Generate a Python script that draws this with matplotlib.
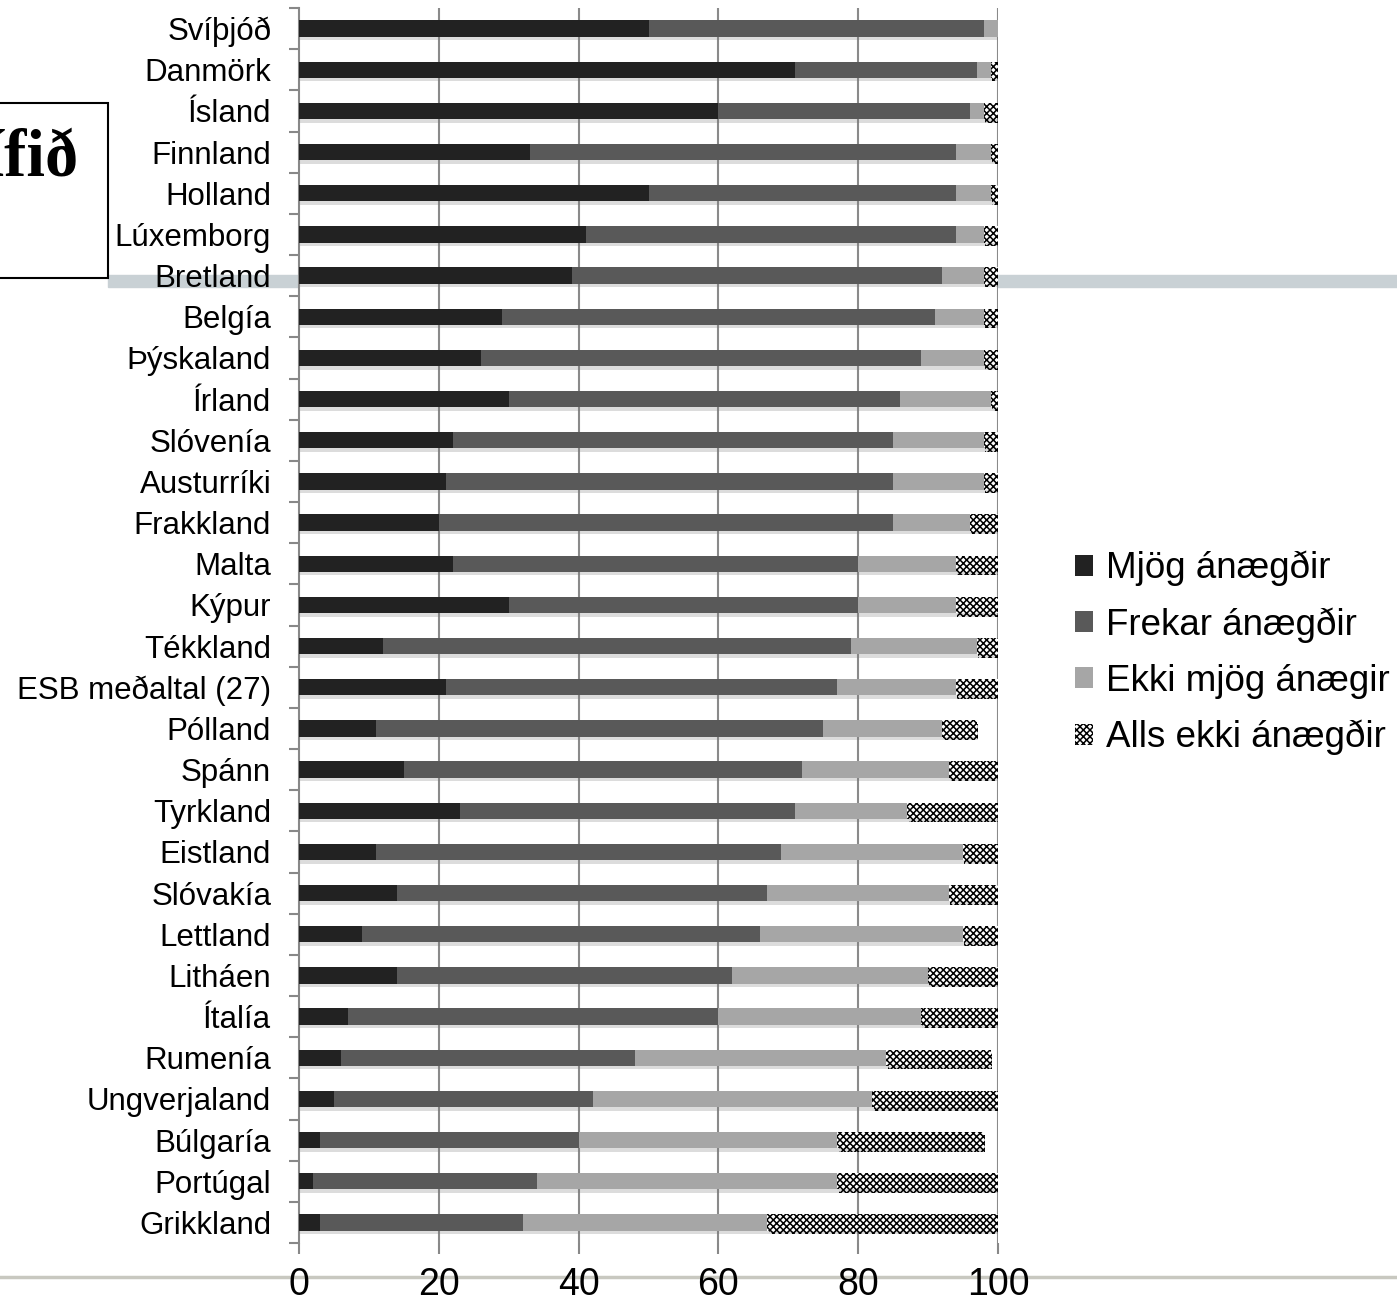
import matplotlib
matplotlib.use("Agg")
import matplotlib.pyplot as plt
import matplotlib.patheffects as pe
from matplotlib.patches import Rectangle, Patch
from matplotlib.lines import Line2D

plt.rcParams['font.family'] = ['Liberation Sans', 'DejaVu Sans']
plt.rcParams['hatch.linewidth'] = 1.1

countries = ["Svíþjóð", "Danmörk", "Ísland", "Finnland", "Holland", "Lúxemborg",
             "Bretland", "Belgía", "Þýskaland", "Írland", "Slóvenía", "Austurríki",
             "Frakkland", "Malta", "Kýpur", "Tékkland", "ESB meðaltal (27)", "Pólland",
             "Spánn", "Tyrkland", "Eistland", "Slóvakía", "Lettland", "Litháen",
             "Ítalía", "Rumenía", "Ungverjaland", "Búlgaría", "Portúgal", "Grikkland"]
mjog = [50, 71, 60, 33, 50, 41, 39, 29, 26, 30, 22, 21, 20, 22, 30, 12, 21, 11,
        15, 23, 11, 14, 9, 14, 7, 6, 5, 3, 2, 3]
frekar = [48, 26, 36, 61, 44, 53, 53, 62, 63, 56, 63, 64, 65, 58, 50, 67, 56, 64,
          57, 48, 58, 53, 57, 48, 53, 42, 37, 37, 32, 29]
ekki_mjog = [2, 2, 2, 5, 5, 4, 6, 7, 9, 13, 13, 13, 11, 14, 14, 18, 17, 17,
             21, 16, 26, 26, 29, 28, 29, 36, 40, 37, 43, 35]
alls_ekki = [0, 1, 2, 1, 1, 2, 2, 2, 2, 1, 2, 2, 4, 6, 6, 3, 6, 5,
             7, 13, 5, 7, 5, 10, 11, 15, 18, 21, 23, 33]
series_names = ["Mjög ánægðir", "Frekar ánægðir", "Ekki mjög ánægir", "Alls ekki ánægðir"]

fig = plt.figure(figsize=(13.97, 13.03), dpi=100)
W, H = 1397, 1303

# slide leftovers behind the chart
fig.patches.append(Rectangle((108 / W, 1 - 287 / H), 1 - 108 / W, 12 / H,
                             transform=fig.transFigure, color="#c9d1d5", zorder=-2))
fig.lines.append(Line2D([0, 1], [1 - 1277 / H, 1 - 1277 / H], transform=fig.transFigure,
                        color="#c8c8c0", lw=2.5, zorder=-2))
fig.patches.append(Rectangle((-0.01, 1 - 278 / H), 0.01 + 108 / W, 175 / H,
                             transform=fig.transFigure, facecolor="white",
                             edgecolor="black", lw=1.5, zorder=1))
fig.text(79 / W, 1 - 175 / H, "lífið", ha="right", va="baseline", fontsize=48,
         fontweight="bold", family=["Liberation Serif", "DejaVu Serif"], zorder=2)

ax = fig.add_axes([299 / W, 1 - 1243 / H, 699 / W, 1235 / H])
ax.set_facecolor("white")

y = list(range(len(countries)))
shadow = [pe.SimplePatchShadow(offset=(1, -2.5), shadow_rgbFace="#777777", alpha=0.25), pe.Normal()]
left = [0] * len(countries)
colors = ["#222222", "#595959", "#a6a6a6", "white"]
for vals, col, name in zip([mjog, frekar, ekki_mjog, alls_ekki], colors, series_names):
    if col == "white":
        bars = ax.barh(y, vals, left=left, height=0.4, color="white", edgecolor="black",
                       hatch="xxxxx", linewidth=0, zorder=3)
    else:
        bars = ax.barh(y, vals, left=left, height=0.4, color=col, linewidth=0, zorder=3)
    for b in bars:
        b.set_path_effects(shadow)
    left = [l + v for l, v in zip(left, vals)]

ax.set_xlim(0, 100)
ax.set_ylim(len(countries) - 0.5, -0.5)
ax.set_xticks([0, 20, 40, 60, 80, 100])
ax.set_yticks(y)
ax.set_yticklabels(countries)
ax.set_yticks([i - 0.5 for i in range(len(countries) + 1)], minor=True)
ax.tick_params(axis="y", which="major", length=0, pad=20, labelsize=22.5)
ax.tick_params(axis="y", which="minor", length=7, width=1.5, color="#888888")
ax.tick_params(axis="x", length=8, width=1.5, color="#888888", pad=9, labelsize=27)
for x in [20, 40, 60, 80, 100]:
    ax.axvline(x, color="#8a8a8a", lw=1.5, zorder=1)
for s in ["top", "right", "bottom"]:
    ax.spines[s].set_visible(False)
ax.spines["left"].set_color("#888888")
ax.spines["left"].set_linewidth(1.5)

handles = [Patch(facecolor=c, edgecolor="black" if c == "white" else c,
                 hatch="xxxxx" if c == "white" else None, linewidth=0) for c in colors]
fig.legend(handles, series_names, loc="center left", bbox_to_anchor=(1075 / W, 1 - 653 / H),
           frameon=False, fontsize=26.5, handlelength=0.5, handleheight=0.5,
           handletextpad=0.33, labelspacing=0.57, borderpad=0, borderaxespad=0)

fig.savefig("out.png", dpi=100, facecolor="white")
